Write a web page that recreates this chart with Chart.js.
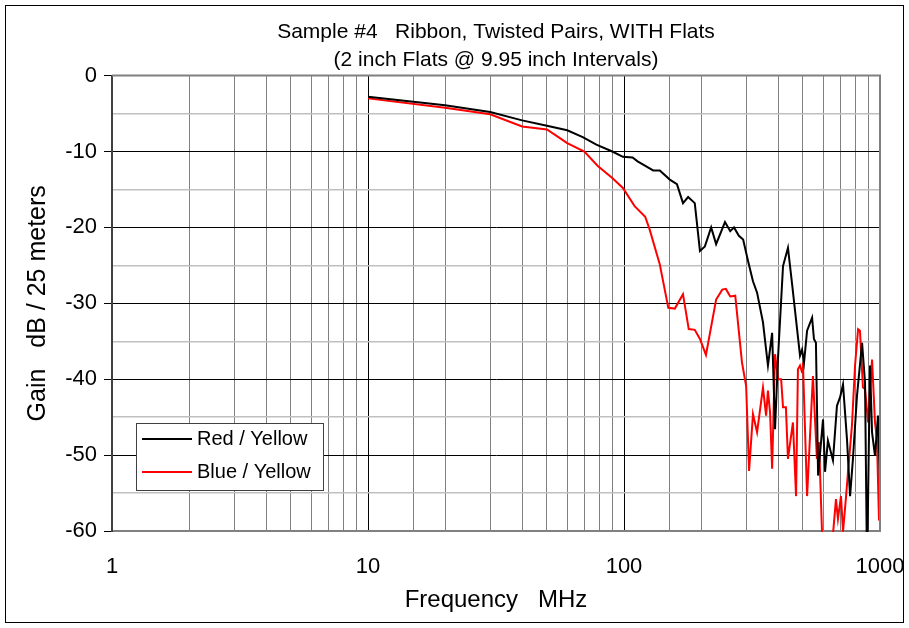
<!DOCTYPE html>
<html>
<head>
<meta charset="utf-8">
<script src="https://cdn.jsdelivr.net/npm/chart.js@4/dist/chart.umd.min.js"></script>
<style>
  html, body { margin: 0; padding: 0; background: #ffffff; }
  canvas { display: block; }
</style>
</head>
<body>
<canvas id="gainChart" width="909" height="628"></canvas>
<script>
const FONT = "'Liberation Sans', Arial, sans-serif";

// Red / Yellow pair (black trace)
const freqRedYellow = [10, 20, 30, 40, 50, 60, 69, 78, 90, 99, 108, 113, 124, 130, 138, 151, 161, 170, 178, 189,
    198, 207, 219, 229, 248, 260, 269, 281, 292, 305, 319, 331, 349, 365, 379, 389, 400, 418, 437, 453,
    487, 496, 505, 519, 543, 552, 562, 573, 599, 610, 626, 655, 679, 698, 717, 743, 764, 784, 813, 851,
    874, 890, 914, 931, 956, 982, 1000];
const gainRedYellow = [-2.8, -3.9, -4.8, -5.9, -6.6, -7.2, -8.1, -9.1, -10.0, -10.7, -10.8, -11.3, -12.1, -12.5, -12.5, -13.7, -14.3, -16.8, -16.0, -16.8,
    -23.1, -22.5, -20.0, -22.2, -19.3, -20.5, -20.0, -21.1, -21.6, -24.4, -27.1, -28.6, -32.5, -38.2, -33.9, -46.6, -36.9, -25.1, -22.7, -27.3,
    -36.9, -36.1, -37.8, -33.6, -31.9, -34.7, -35.2, -52.7, -45.3, -52.2, -48.1, -50.7, -43.5, -42.4, -40.7, -47.9, -55.4, -50.5, -42.2, -35.2,
    -40.4, -65.0, -38.2, -47.0, -50.1, -44.8, -53.6];

// Blue / Yellow pair (red trace)
const freqBlueYellow = [10, 20, 30, 40, 50, 56, 60, 70, 79, 90, 99, 110, 121, 126, 138, 149, 158, 170, 179, 189,
    198, 209, 229, 242, 250, 260, 272, 289, 300, 308, 319, 331, 349, 359, 365, 372, 379, 389, 400, 411,
    418, 429, 437, 457, 470, 478, 487, 496, 500, 519, 547, 567, 578, 594, 638, 673, 685, 704, 717, 737,
    750, 777, 799, 821, 835, 858, 874, 898, 931, 956, 973, 991, 1000];
const gainBlueYellow = [-3.0, -4.25, -5.1, -6.7, -7.1, -8.2, -8.9, -10.0, -11.9, -13.5, -14.8, -17.2, -18.6, -20.3, -24.9, -30.6, -30.7, -28.8, -33.4, -33.5,
    -34.7, -36.8, -29.5, -28.2, -28.1, -29.1, -29.0, -37.8, -40.9, -52.1, -44.6, -47.0, -41.1, -44.8, -41.5, -44.4, -51.8, -36.7, -40.0, -40.0,
    -43.7, -43.7, -50.5, -45.7, -55.4, -38.7, -38.2, -39.1, -37.8, -55.4, -39.6, -50.5, -48.3, -60.5, -65.0, -55.8, -58.4, -55.4, -60.1, -55.4,
    -52.2, -46.1, -38.2, -33.4, -33.6, -41.1, -41.3, -45.7, -37.4, -45.7, -47.9, -58.6, -57.1];

const seriesLabels = ["Red / Yellow", "Blue / Yellow"];
const seriesColors = ["#000000", "#ff0000"];
const titleLines = ["Sample #4   Ribbon, Twisted Pairs, WITH Flats", "(2 inch Flats @ 9.95 inch Intervals)"];
const xTitle = "Frequency   MHz";
const yTitle = "Gain   dB / 25 meters";

function toPoints(xs, ys) {
    return xs.map((x, i) => ({ x: x, y: ys[i] }));
}

function isDecade(v) {
    let l = Math.log10(v);
    return Math.abs(l - Math.round(l)) < 1e-9;
}

// frame round the whole figure + legend box inside the plot
const framePlugin = {
    id: "framePlugin",
    beforeDraw(chart) {
        let ctx = chart.ctx;
        ctx.save();
        ctx.fillStyle = "#ffffff";
        ctx.fillRect(0, 0, chart.width, chart.height);
        ctx.restore();
    },
    afterDraw(chart) {
        let ctx = chart.ctx;
        let area = chart.chartArea;
        ctx.save();
        // plot border top / right
        ctx.strokeStyle = "#808080";
        ctx.lineWidth = 2;
        ctx.beginPath();
        ctx.moveTo(area.left, area.top);
        ctx.lineTo(area.right, area.top);
        ctx.lineTo(area.right, area.bottom);
        ctx.stroke();

        // figure frame
        ctx.strokeStyle = "#000000";
        ctx.lineWidth = 1;
        ctx.strokeRect(5.5, 5.5, chart.width - 11, chart.height - 11);

        // legend
        let bx = 136, by = 423, bw = 187, bh = 67;
        ctx.fillStyle = "#ffffff";
        ctx.fillRect(bx, by, bw, bh);
        ctx.strokeStyle = "#404040";
        ctx.lineWidth = 1;
        ctx.strokeRect(bx + 0.5, by + 0.5, bw, bh);
        ctx.font = "20px " + FONT;
        ctx.textBaseline = "middle";
        chart.data.datasets.forEach((ds, i) => {
            let y = by + 16 + i * 33;
            ctx.strokeStyle = ds.borderColor;
            ctx.lineWidth = 2;
            ctx.beginPath();
            ctx.moveTo(bx + 6, y);
            ctx.lineTo(bx + 56, y);
            ctx.stroke();
            ctx.fillStyle = "#000000";
            ctx.fillText(ds.label, bx + 61, y);
        });
        ctx.restore();
    }
};

const config = {
    type: "line",
    data: {
        datasets: [
            {
                label: seriesLabels[0],
                data: toPoints(freqRedYellow, gainRedYellow),
                borderColor: seriesColors[0],
                backgroundColor: seriesColors[0],
                borderWidth: 2,
                pointRadius: 0,
                tension: 0,
                clip: 1,
            },
            {
                label: seriesLabels[1],
                data: toPoints(freqBlueYellow, gainBlueYellow),
                borderColor: seriesColors[1],
                backgroundColor: seriesColors[1],
                borderWidth: 2,
                pointRadius: 0,
                tension: 0,
                clip: 1,
            },
        ],
    },
    options: {
        responsive: false,
        animation: false,
        layout: {
            padding: { left: 0, right: 29, top: 0, bottom: 0 },
        },
        plugins: {
            legend: { display: false },
            tooltip: { enabled: false },
            title: {
                display: true,
                fullSize: false,
                text: titleLines,
                color: "#000000",
                font: { family: FONT, size: 21, weight: "normal", lineHeight: 1.3 },
                padding: { top: 19, bottom: 2 },
            },
        },
        scales: {
            x: {
                type: "logarithmic",
                min: 1,
                max: 1000,
                afterFit: function (scale) {
                    scale.height = 97;
                    scale.paddingLeft = 0;
                    scale.paddingRight = 0;
                },
                grid: {
                    drawTicks: false,
                    color: function (ctx) {
                        if (!ctx.tick) return "#808080";
                        return isDecade(ctx.tick.value) ? "#000000" : "#808080";
                    },
                    lineWidth: 1,
                },
                border: { color: "#808080", width: 2 },
                ticks: {
                    autoSkip: false,
                    maxRotation: 0,
                    padding: 23,
                    color: "#000000",
                    font: { family: FONT, size: 22 },
                    callback: function (value) {
                        return isDecade(value) ? String(value) : "";
                    },
                },
                title: {
                    display: true,
                    text: xTitle,
                    color: "#000000",
                    font: { family: FONT, size: 24 },
                    padding: { top: 0, bottom: 13 },
                },
            },
            y: {
                min: -60,
                max: 0,
                afterFit: function (scale) {
                    scale.width = 112;
                    scale.paddingTop = 0;
                    scale.paddingBottom = 0;
                },
                grid: {
                    tickLength: 8,
                    color: function (ctx) {
                        if (!ctx.tick) return "#c0c0c0";
                        return ctx.tick.value % 10 === 0 ? "#000000" : "#c0c0c0";
                    },
                    tickColor: function (ctx) {
                        if (!ctx.tick) return "rgba(0,0,0,0)";
                        return ctx.tick.value % 10 === 0 ? "#000000" : "rgba(0,0,0,0)";
                    },
                    lineWidth: function (ctx) {
                        if (!ctx.tick) return 1;
                        return ctx.tick.value % 10 === 0 ? 1 : 1.5;
                    },
                },
                border: { color: "#404040", width: 2 },
                ticks: {
                    stepSize: 5,
                    padding: 7,
                    color: "#000000",
                    font: { family: FONT, size: 22 },
                    callback: function (value) {
                        return value % 10 === 0 ? String(value) : "";
                    },
                },
                title: {
                    display: true,
                    text: yTitle,
                    color: "#000000",
                    font: { family: FONT, size: 25 },
                    padding: { top: 23, bottom: 0 },
                },
            },
        },
    },
    plugins: [framePlugin],
};

let gainChart = new Chart(document.getElementById("gainChart").getContext("2d"), config);
</script>
</body>
</html>
